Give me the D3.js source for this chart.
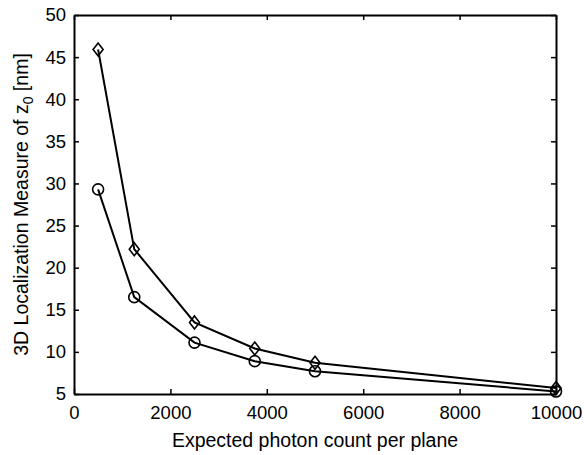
<!DOCTYPE html>
<html>
<head>
<meta charset="utf-8">
<script src="https://cdn.jsdelivr.net/npm/d3@7"></script>
<style>
  body { margin: 0; background: #fff; }
  text { font-family: "Liberation Sans", Arial, sans-serif; fill: #000; }
</style>
</head>
<body>
<div id="chart"></div>
<script>
const width = 584
const height = 455
const margin = {top: 15, right: 28, bottom: 61, left: 74}

// data
const photons = [500, 1250, 2500, 3750, 5000, 10000]
const diamondSeries = [45.9, 22.2, 13.5, 10.4, 8.7, 5.7]
const circleSeries = [29.3, 16.5, 11.1, 8.9, 7.7, 5.3]
const xTicks = [0, 2000, 4000, 6000, 8000, 10000]
const yTicks = [5, 10, 15, 20, 25, 30, 35, 40, 45, 50]

const fontSize = "18.5px"
const titleSize = "19.5px"

const w = width - margin.left - margin.right
const h = height - margin.top - margin.bottom

const svg = d3.select("#chart").append("svg").attr("width", width).attr("height", height)
const g = svg.append("g").attr("transform", `translate(${margin.left}, ${margin.top})`)

const x = d3.scaleLinear().domain([0, 10000]).range([0, w])
const y = d3.scaleLinear().domain([5, 50]).range([h, 0])

const tickLen = 5

// axes, ticks inside like matlab
const xAxis = d3.axisBottom(x).tickValues(xTicks).tickFormat(d3.format("d"))
    .tickSizeInner(-tickLen).tickSizeOuter(0).tickPadding(12)
const yAxis = d3.axisLeft(y).tickValues(yTicks).tickFormat(d3.format("d"))
    .tickSizeInner(-tickLen).tickSizeOuter(0).tickPadding(8)
const xTop = d3.axisTop(x).tickValues(xTicks).tickSizeInner(-tickLen).tickSizeOuter(0).tickFormat("")
const yRight = d3.axisRight(y).tickValues(yTicks).tickSizeInner(-tickLen).tickSizeOuter(0).tickFormat("")

const xg = g.append("g").attr("transform", `translate(0, ${h})`).call(xAxis)
const yg = g.append("g").call(yAxis)
const tg = g.append("g").call(xTop)
const rg = g.append("g").attr("transform", `translate(${w}, 0)`).call(yRight)

;[xg, yg, tg, rg].forEach(a => {
    a.attr("font-family", null).attr("font-size", null)
    a.select(".domain").attr("stroke", "#000").attr("stroke-width", 2)
    a.selectAll(".tick line").attr("stroke", "#000").attr("stroke-width", 1.5)
    a.selectAll("text").style("font-size", fontSize).attr("fill", "#000")
})
xg.selectAll("text").attr("dy", "0.71em")

// lines
const line = d3.line().x((d, i) => x(photons[i])).y(d => y(d))

g.append("path").datum(diamondSeries).attr("d", line)
    .attr("fill", "none").attr("stroke", "#000").attr("stroke-width", 2)
g.append("path").datum(circleSeries).attr("d", line)
    .attr("fill", "none").attr("stroke", "#000").attr("stroke-width", 2)

// markers
g.selectAll(".dia").data(diamondSeries).enter().append("path")
    .attr("class", "dia")
    .attr("transform", (d, i) => `translate(${x(photons[i])}, ${y(d)})`)
    .attr("d", "M0,-6.5L5,0L0,6.5L-5,0Z")
    .attr("fill", "none").attr("stroke", "#000").attr("stroke-width", 1.6)

g.selectAll(".circ").data(circleSeries).enter().append("circle")
    .attr("class", "circ")
    .attr("cx", (d, i) => x(photons[i]))
    .attr("cy", d => y(d))
    .attr("r", 5.5)
    .attr("fill", "none").attr("stroke", "#000").attr("stroke-width", 1.6)

// titles
svg.append("text")
    .attr("x", margin.left + w / 2).attr("y", 447)
    .attr("text-anchor", "middle").style("font-size", titleSize)
    .text("Expected photon count per plane")

const ylab = svg.append("text")
    .attr("transform", `translate(28, ${margin.top + h / 2}) rotate(-90)`)
    .attr("text-anchor", "middle").style("font-size", titleSize)
ylab.append("tspan").text("3D Localization Measure of z")
ylab.append("tspan").attr("dy", 5).style("font-size", "14px").text("0")
ylab.append("tspan").attr("dy", -5).text(" [nm]")
</script>
</body>
</html>
